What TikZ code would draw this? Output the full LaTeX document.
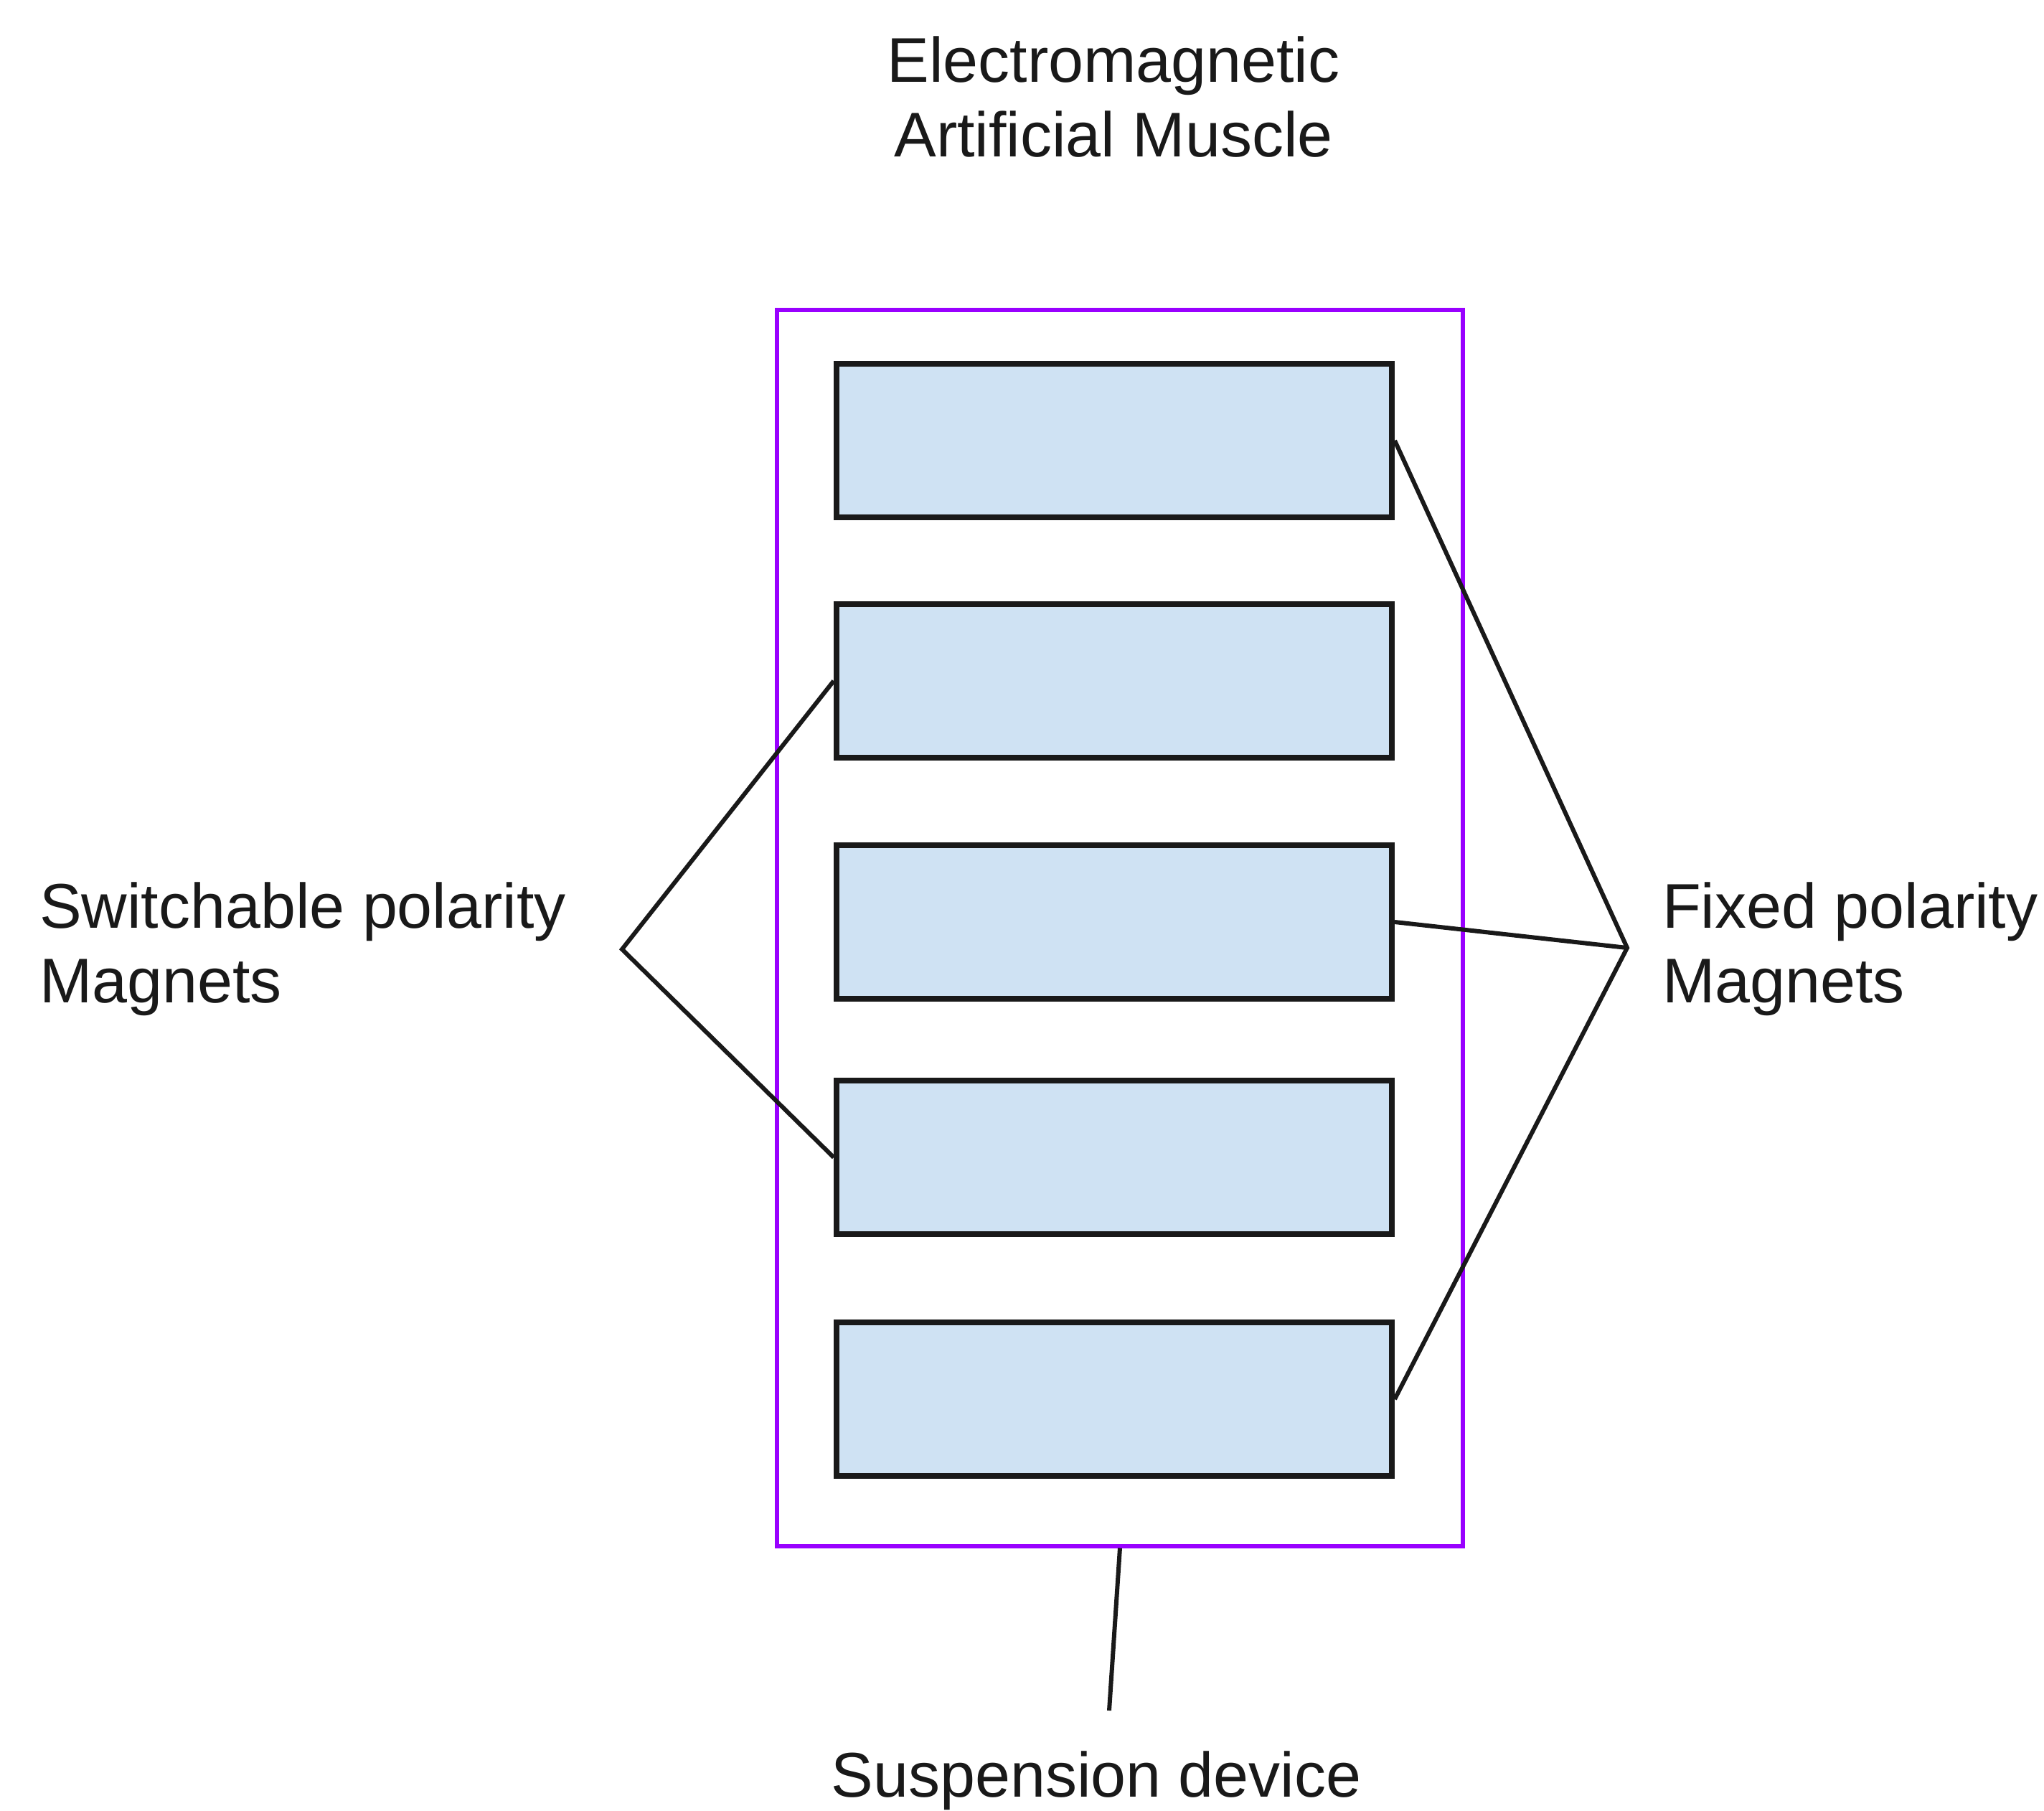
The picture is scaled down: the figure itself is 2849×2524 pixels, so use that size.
\documentclass[tikz,border=0pt]{standalone}
\usepackage{fontspec}
\setmainfont{Liberation Sans}
\definecolor{boxpurple}{HTML}{9900FF}
\definecolor{magfill}{HTML}{CFE2F3}
\begin{document}
\begin{tikzpicture}[x=1pt,y=-1pt,
  magnet/.style={draw=black!90, line width=8pt, fill=magfill, minimum width=774pt, minimum height=214pt, inner sep=0pt, anchor=center},
  frame/.style={draw=boxpurple, line width=6pt, fill=none, minimum width=956pt, minimum height=1723pt, inner sep=0pt},
  lbl/.style={font=\fontsize{88}{104}\selectfont, inner sep=0pt, text=black!90},
  conn/.style={draw=black!90, line width=6pt}]
\path[use as bounding box, fill=white] (0,0) rectangle (2849,2524);
\node[frame] (muscle) at (1561,1293) {};
\node[magnet] (m1) at (1553,614) {};
\node[magnet] (m2) at (1553,949) {};
\node[magnet] (m3) at (1553,1285) {};
\node[magnet] (m4) at (1553,1613) {};
\node[magnet] (m5) at (1553,1950) {};
\node[lbl, align=center] (title) at (1552,135) {Electromagnetic\\Artificial Muscle};
\node[lbl, align=left, anchor=west] (swl) at (55,1323) {Switchable polarity\\Magnets};
\node[lbl, align=left, anchor=west] (fxl) at (2317,1323) {Fixed polarity\\Magnets};
\node[lbl] (susp) at (1528,2482) {Suspension device};
\coordinate (lv) at (867,1323);
\coordinate (rv) at (2268,1321);
\coordinate (se) at (1546,2384);
\draw[conn] (m2.west) -- (lv) -- (m4.west);
\draw[conn] (m1.east) -- (rv) -- (m5.east);
\draw[conn] (m3.east) -- (rv);
\draw[conn] (muscle.south) -- (se);
\end{tikzpicture}
\end{document}
